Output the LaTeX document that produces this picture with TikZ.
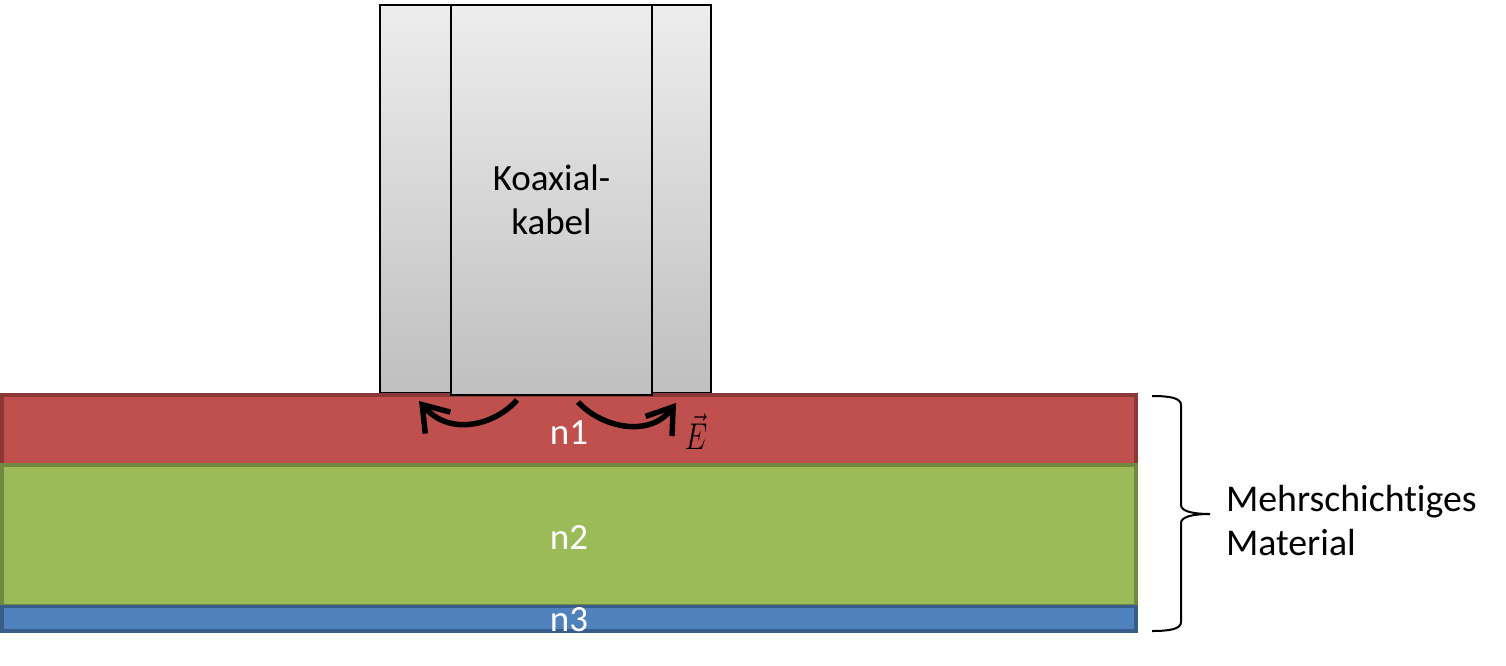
\documentclass[tikz,border=0pt]{standalone}
\usepackage{fontspec}
\setmainfont[Ligatures=NoCommon]{Carlito}
\usetikzlibrary{arrows.meta}
\definecolor{redfill}{HTML}{C0504D}\definecolor{redline}{HTML}{8C3836}
\definecolor{greenfill}{HTML}{9BBB59}\definecolor{greenline}{HTML}{71893F}
\definecolor{bluefill}{HTML}{4F81BD}\definecolor{blueline}{HTML}{385D8A}
\tikzset{
  cable/.style={draw=black,line width=2.2pt,rectangle,inner sep=0pt,outer sep=0pt,top color=black!7,bottom color=black!25,align=center,font=\fontsize{37}{44}\selectfont},
  layer/.style={rectangle,inner sep=0pt,outer sep=0pt,line width=3.5pt,minimum width=1134pt,text=white,text height=28pt,text depth=0pt,font=\fontsize{37}{44}\selectfont},
  field/.style={line width=5.5pt,draw=black,-{Straight Barb[length=24pt,width=33pt,line width=5.5pt]}},
  note/.style={inner sep=0pt,outer sep=0pt,align=left,text=black,font=\fontsize{37.8}{44}\selectfont}
}
\begin{document}
\begin{tikzpicture}[x=1pt,y=-1pt]
\useasboundingbox (0,0) rectangle (1506,665);
\fill[white] (0,0) rectangle (1506,665);
\node[cable,minimum width=331pt,minimum height=388pt] (outer) at (545.5,199) {};
\node[layer,draw=redline,fill=redfill,minimum height=70pt] (n1) at (569,430) {n1};
\node[layer,draw=greenline,fill=greenfill,minimum height=141pt] (n2) at (569,535.5) {n2};
\node[layer,draw=blueline,fill=bluefill,minimum height=24.5pt,text height=24.5pt] (n3) at (569,618.75) {n3};
\node[cable,minimum width=201pt,minimum height=390pt] (inner) at (551.5,200) {Koaxial-\\kabel};
\coordinate (la) at (517,400); \coordinate (lb) at (419,401);
\coordinate (ra) at (578,402); \coordinate (rb) at (676,403);
\draw[field] (la) .. controls (495,425) and (450,437) .. (lb);
\draw[field] (ra) .. controls (602,428) and (650,438) .. (rb);
\node[inner sep=0pt,text=black,font=\fontsize{24}{28}\selectfont] (efield) at (696,431.5) {\scalebox{1.15}[1.5]{\(\vec{E}\)}};
\coordinate (b1) at (1152,396); \coordinate (b2) at (1210,514); \coordinate (b3) at (1152,631);
\draw[black,line width=2pt] (b1) .. controls (1170,396) and (1181,398) .. (1181,405) -- (1181,505) .. controls (1181,511) and (1192,514) .. (b2) .. controls (1192,514) and (1181,517) .. (1181,523) -- (1181,622) .. controls (1181,629) and (1170,631) .. (b3);
\node[note,anchor=west] (mat) at (1226,521) {Mehrschichtiges\\Material};
\end{tikzpicture}
\end{document}
